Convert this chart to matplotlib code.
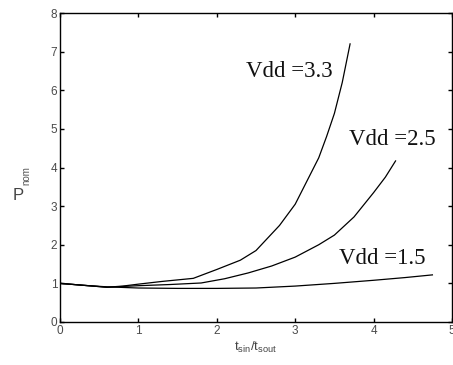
import matplotlib
matplotlib.use("Agg")
import matplotlib.pyplot as plt

# Data
x33 = [0, 0.3, 0.6, 0.8, 1.0, 1.3, 1.7, 2.0, 2.3, 2.5, 2.8, 3.0, 3.1, 3.2, 3.3, 3.4, 3.5, 3.6, 3.7]
y33 = [1.0, 0.95, 0.9, 0.93, 0.98, 1.05, 1.13, 1.36, 1.6, 1.85, 2.5, 3.05, 3.45, 3.85, 4.25, 4.8, 5.4, 6.2, 7.2]
x25 = [0, 0.3, 0.6, 1.0, 1.4, 1.8, 2.1, 2.4, 2.7, 3.0, 3.3, 3.5, 3.75, 4.0, 4.15, 4.28]
y25 = [1.0, 0.95, 0.9, 0.94, 0.97, 1.01, 1.12, 1.27, 1.45, 1.68, 2.0, 2.25, 2.72, 3.35, 3.75, 4.17]
x15 = [0, 0.3, 0.6, 1.0, 1.5, 2.0, 2.5, 3.0, 3.5, 4.0, 4.4, 4.75]
y15 = [1.0, 0.95, 0.91, 0.88, 0.87, 0.87, 0.88, 0.93, 1.0, 1.08, 1.15, 1.22]
labels = ["Vdd =3.3", "Vdd =2.5", "Vdd =1.5"]
label_pos = [(2.93, 6.48), (4.24, 4.72), (4.11, 1.65)]
xticks = [0, 1, 2, 3, 4, 5]
yticks = [0, 1, 2, 3, 4, 5, 6, 7, 8]

fig = plt.figure(figsize=(4.53, 3.65), dpi=100)
ax = fig.add_axes([60/453, 43/365, 392/453, 309/365])

for xs, ys in [(x33, y33), (x25, y25), (x15, y15)]:
    ax.plot(xs, ys, color="black", lw=0.9)

for lab, (lx, ly) in zip(labels, label_pos):
    ax.text(lx, ly, lab, ha="center", va="center", fontsize=16.5,
            family="Liberation Serif", color="#111111")

ax.set_xlim(0, 5)
ax.set_ylim(0, 8)
ax.set_xticks(xticks)
ax.set_yticks(yticks)
ax.tick_params(direction="in", top=True, right=True, length=3, width=1.0,
               labelsize=8.5, labelcolor="#4a4a4a", pad=2)
for lab in ax.get_xticklabels() + ax.get_yticklabels():
    lab.set_family("Liberation Sans")
for s in ax.spines.values():
    s.set_linewidth(1.0)

ax.set_xlabel(r"t$_{\mathregular{sin}}$/t$_{\mathregular{sout}}$", fontsize=9.5,
              family="Liberation Sans", color="#444444", labelpad=2)

fig.text(18/453, 1 - 196/365, "P", fontsize=12, family="Liberation Sans",
         color="#444444", ha="center", va="center")
fig.text(26/453, 1 - 176/365, "nom", fontsize=7, family="Liberation Sans",
         color="#555555", ha="center", va="center", rotation=90)

fig.savefig("out.png", dpi=100)
